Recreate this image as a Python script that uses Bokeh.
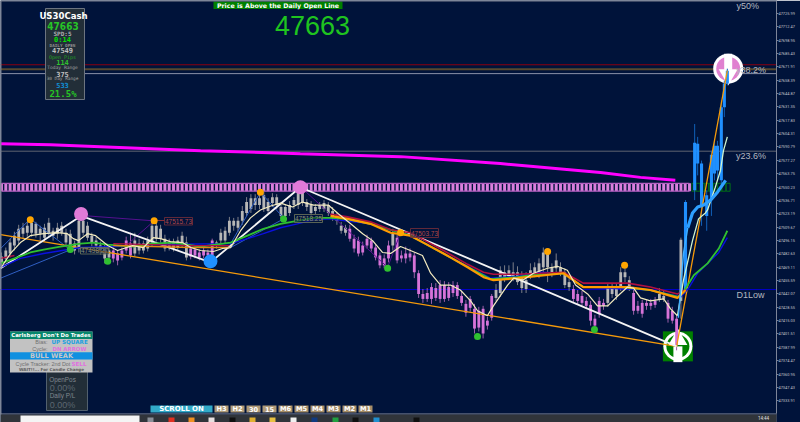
from bokeh.plotting import figure
from bokeh.embed import file_html
from bokeh.resources import INLINE
from bokeh.models import FixedTicker, PrintfTickFormatter, Span, Label, Range1d, BoxAnnotation
from bokeh.core.properties import value

# ---------- data: prices are points above BASE, x values are bar numbers ----------
BASE = 47000
body_high = [480,486,494,501,508,509,511,514,513,508,509,514,506,509,511,504,503,493,516,516,
 511,501,496,491,488,486,486,483,486,496,493,496,493,493,496,511,511,508,498,494,
 494,496,501,494,488,487,484,486,484,496,494,504,506,516,516,516,526,535,539,539,
 539,542,535,540,540,530,530,532,537,545,545,535,532,530,532,534,532,526,521,511,
 509,508,498,496,491,498,496,489,481,478,491,503,499,481,483,483,481,463,442,443,
 449,448,451,451,449,451,451,440,432,437,427,425,427,415,440,446,466,464,466,464,
 464,459,456,466,469,473,484,483,469,476,469,464,454,447,442,440,435,431,417,435,
 433,449,449,448,464,464,456,443,430,433,433,433,435,442,440,433,425,417,497]
body_low = [473,478,483,491,496,503,504,504,503,503,499,504,501,503,504,494,488,486,488,504,
 499,494,491,486,478,479,478,476,479,486,481,483,486,486,488,494,498,498,488,489,
 488,489,493,479,480,481,479,481,481,481,491,496,496,504,511,509,516,524,528,532,
 532,528,526,534,532,521,521,524,532,532,534,530,524,526,528,528,524,519,516,506,
 504,498,488,483,484,491,488,479,471,471,478,491,476,478,478,479,464,442,437,437,
 437,438,437,437,438,443,440,433,423,428,407,408,402,410,418,438,443,458,461,459,
 454,448,447,461,463,463,469,469,464,468,464,451,449,437,435,433,430,415,410,422,
 430,433,442,440,449,459,449,425,425,422,430,430,431,437,437,417,415,390,435]
wick_high = [484,489,498,505,512,514,515,518,515,511,513,519,509,514,515,508,507,496,524,520,
 515,504,500,495,492,490,489,486,489,500,504,504,498,496,500,518,516,512,502,498,
 498,500,505,500,491,490,487,489,487,498,496,508,510,520,519,520,531,540,543,543,
 544,546,539,544,543,534,533,536,540,550,550,538,536,533,535,537,535,530,524,515,
 512,512,502,500,495,502,499,492,484,482,496,508,502,486,490,488,484,466,447,448,
 453,453,456,455,454,455,454,445,436,440,432,429,430,419,442,452,470,471,471,474,
 470,465,464,473,474,478,489,484,473,483,474,468,458,451,446,445,439,435,421,439,
 437,452,453,452,469,468,460,448,435,436,436,437,439,448,446,436,429,421,499]
wick_low = [468,474,479,486,492,498,500,500,499,496,495,501,496,498,501,491,484,482,484,501,
 496,490,488,482,473,476,474,471,476,483,478,480,482,483,485,490,495,494,485,486,
 485,486,489,476,477,478,476,478,478,478,488,493,493,501,506,505,512,521,524,527,
 528,525,523,530,528,518,518,521,528,528,531,526,521,523,525,525,521,516,512,503,
 501,495,484,480,481,488,485,476,468,468,474,486,473,474,473,475,458,438,433,434,
 432,435,433,434,435,439,437,430,419,424,402,404,397,406,415,435,439,454,456,455,
 451,443,443,457,459,458,464,454,459,464,460,448,445,434,431,430,427,410,406,418,
 426,429,438,436,445,454,445,421,422,418,426,426,428,434,434,413,412,385,417]
candle_kind = ("g"*26 + "p"*5 + "g"*13 + "p"*6 + "g"*31 + "p"*10 + "g" + "p"*23 +
               "g"*18 + "p"*8 + "g"*6 + "p"*6 + "g"*2 + "p"*3 + "g")

blue_bar = [159.07,161.2,161.9,162.8,164,165.1,165.8,166.5,167.4,168.1,168.8]
blue_body_high = [535,595,594,574,542,583,592,592,631,655,668]
blue_body_low = [446,547,574,530,521,537,564,567,557,631,655]
blue_wick_high = [537,614,601,577,547,587,597,597,638,658,670]
blue_wick_low = [443,537,562,511,506,521,557,557,552,621,653]

cream_bar = [-0.2,2.1,4.4,6.7,9.8,13,15.3,16.7,17.9,20,21.9,24.7,27,28.4,30.5,33,35.3,37,39.3,42.1,44,46.3,
 49.3,51.4,53.3,55.6,57.9,60.2,62.6,64.9,67.7,70,72.6,76,78.4,81.2,84,86.3,88.6,90.5,92.8,95.1,97.9,99.8,
 102.1,104.4,106.7,109.1,110.7,113,114.4,117.7,119.1,121.2,123.7,127,129.3,131.6,133.5,136.3,138.6,141,
 143.3,145.6,147,148.6,150.9,154,155.6,157.2]
cream_val = [468,483,494,501,503,504,503,498,496,503,501,491,486,488,491,489,499,498,495,494,489,486,
 485,488,489,506,519,527,531,534,530,535,532,532,523,513,503,496,484,483,490,486,481,463,
 451,451,446,435,425,420,430,451,458,456,463,468,470,466,451,442,430,430,
 440,449,448,438,435,437,427,420]
pale_bar = [157.2,158.6,160.7,162.1,163.7,164.2,166,167.2,167.9,168.8]
pale_val = [420,456,496,518,524,527,550,567,587,601]

orange_bar = [76.5,80.5,85.8,90.5,95.1,98.1,102.8,104.4,108.4,112.1,114.4,120,130.7,135.3,139.3,145.6,150.9,157.2,159.1]
orange_val = [521,518,513,504,501,494,483,479,469,459,456,458,463,449,449,449,446,438,446]
red_val = [523,520,515,507,504,497,486,482,472,464,462,462,464,453,453,453,449,442,446]
orange_early_bar = [26,35,44,53]
orange_early_val = [491,490,489,489]
red_early_val = [493,492,491,491]
red_start_bar = [-0.2,3]
red_start_val = [478,481]

green_bar = [-0.2,3.7,6.7,9.8,13.7,18.4,21.4,24.7,30.7,34.7,40,46.3,53.3,57.2,60.9,64.9,68.8,72.6,76.5,80,85.8,95.1,
 104.4,113.7,120,123,130.7,135.3,144,150.9,157.4,158.6,161,164.2,166.8,168.8]
green_val = [473,479,484,487,490,493,494,492,490,493,494,490,494,501,508,513,516,519,519,518,513,501,
 479,457,459,461,463,449,449,446,439,444,461,473,488,506]
navy_bar = [-0.2,4.4,9.8,18.4,26.5,34.7,53.3,57.2,60.9,64.9,68.8,72.6,76.5,80,85.8,95.1,104.4,113.7,120,125.3,130.7,135.3,
 150.9,158,159.8,161.9,166.8,168.8]
navy_val = [469,478,483,489,490,492,493,498,503,509,513,517,518,516,513,501,479,458,460,464,463,449,
 446,439,448,463,484,499]
sky_thin_bar = [157.4,158.6,159.6]
sky_thin_val = [418,483,509]
sky_bar = [159.6,160.7,161.9,163.3,164.9,166.5,168.4]
sky_val = [509,524,530,532,537,545,557]
magenta_bar = [-0.2,11.4,23,46.3,69.5,92.8,116,139.3,148.6,156.7]
magenta_val = [594,593,591,587,584,581,574,565,560,557]

zig_bar = [-0.2,18.5,48.6,69.5,157]
zig_val = [468,521,474,550,389]
trend_bar = [-0.2,157,168.8]
trend_val = [502,389,668]
purple_bar = [[29.5,35.5,20],[69.9,89.8,92.8]]
purple_val = [[493,516,521],[549,469,504]]
thin_blue_bar = [[-0.2,6.7,15.6],[-0.2,15.6],[53.3,60.2,65.6],[53.3,65.6]]
thin_blue_val = [[488,518,488],[458,486],[493,545,519],[489,518]]

peak_bar = [6.7,35.5,60.2,92.8,127,144.9]
peak_val = [517,516,545,504,485,471]
trough_bar = [16,24.7,65.6,89.8,110.7,137.9]
trough_val = [487,475,518,468,399,406]
pink_big_bar = [18.5,69.5]
pink_big_val = [523,550]
blue_big_bar = [48.6]
blue_big_val = [475]
sell_bar, sell_val = [169], [670]
buy_bar, buy_val = [157.3], [389]

band_bars = list(range(0,161))
band_green_bars = list(range(161,170))
band_high, band_low = 554, 546

level_red, level_brown, level_white, level_236, level_d1 = 674, 669.5, 665, 586.5, 446.5

axis_ticks = [47725.99,47712.47,47698.95,47685.43,47671.91,47658.39,47644.87,47631.35,47617.83,47604.31,
 47590.79,47577.27,47563.75,47550.23,47536.71,47523.19,47509.67,47496.15,47482.63,47469.11,47455.59,
 47442.07,47428.55,47415.03,47401.51,47387.99,47374.47,47360.95,47347.43,47333.91]

timeframes = ["H3","H2","30","15","M6","M5","M4","M3","M2","M1"]
taskbar_icons = [(150,"#8a8f98"),(171,"#e03020"),(191,"#f09020"),(211,"#e8e0e0"),(232,"#101010"),(252,"#e0b030"),
                 (272,"#e8c040"),(293,"#f0f0f0"),(314,"#103a80"),(335,"#20a040"),(355,"#101010"),(376,"#2090d0"),(416,"#101010")]

# ---------- scales ----------
def X(px): return (px - 1) / 4.3
def Y(px): return 47739 - 1.012 * px
def P(vals): return [BASE + v for v in vals]

NAVY = "#00133a"
p = figure(frame_width=776, frame_height=422, output_backend="svg", toolbar_location=None,
           x_range=Range1d(X(0), X(776)), y_range=Range1d(Y(422), Y(0)),
           x_axis_location=None, y_axis_location="right", background_fill_color=NAVY, border_fill_color=NAVY,
           min_border_left=0, min_border_right=24, min_border_top=0, min_border_bottom=0)
p.grid.visible = False
p.outline_line_color = None

ya = p.yaxis[0]
ya.ticker = FixedTicker(ticks=axis_ticks)
ya.bounds = (Y(413), Y(0))
ya.formatter = PrintfTickFormatter(format="%.2f")
ya.major_label_text_font = "Roboto"
ya.major_label_text_font_size = "3.9px"
ya.major_label_text_color = "#c0c4cc"
ya.major_label_standoff = 0
ya.major_tick_out = 2
ya.major_tick_in = 0
ya.minor_tick_line_color = None
ya.axis_line_color = "#7c8498"
ya.major_tick_line_color = "#7c8498"

# ---------- levels ----------
for lv, col, w in [(level_red, "#8a0010", 1.2), (level_brown, "#57492f", 2), (level_white, "#8a90a8", 1),
                   (level_236, "#5f6470", 1), (level_d1, "#0000c8", 1)]:
    p.add_layout(Span(location=BASE + lv, dimension="width", line_color=col, line_width=w, level="underlay"))

# ---------- hatched band ----------
p.vbar(x=band_bars, width=0.68, top=BASE + band_high, bottom=BASE + band_low, fill_color="#d97fdc", line_color=None)
p.line([band_bars[0], band_bars[-1]], [BASE + band_high, BASE + band_high], line_color="#b35fc0", line_width=1.2)
p.line([band_bars[0], band_bars[-1]], [BASE + band_low, BASE + band_low], line_color="#b35fc0", line_width=1.2)
p.vbar(x=band_green_bars, width=0.9, top=BASE + band_high, bottom=BASE + band_low, fill_color=NAVY,
       line_color="#006e18", line_width=1)

p.line(magenta_bar, P(magenta_val), line_color="#ff00ff", line_width=3)

# ---------- big icons ----------
p.scatter(buy_bar, P(buy_val), marker="square", size=30, fill_color="#008000", line_color=None)
p.scatter(buy_bar, P(buy_val), marker="circle", size=29, fill_color="#ffffff", line_color=None)
p.scatter(buy_bar, P(buy_val), marker="circle", size=23, fill_color="#008000", line_color=None)
p.rect(buy_bar, [BASE + buy_val[0] - 8], width=9, height=16, width_units="screen", fill_color="#ffffff", line_color=None)
p.scatter(buy_bar, [BASE + buy_val[0] + 7], marker="triangle", size=19, fill_color="#ffffff", line_color=None)

p.scatter(sell_bar, P(sell_val), marker="circle", size=30, fill_color="#ffffff", line_color=None)
p.scatter(sell_bar, P(sell_val), marker="circle", size=24, fill_color="#e080d0", line_color=None)
p.rect(sell_bar, [BASE + sell_val[0] + 7], width=8, height=16, width_units="screen", fill_color="#ffffff", line_color=None)
p.scatter(sell_bar, [BASE + sell_val[0] - 6], marker="inverted_triangle", size=19, fill_color="#ffffff", line_color=None)

# ---------- candles ----------
for kind, body, wick in [("g", "#b6b6b6", "#7c7f88"), ("p", "#d673d8", "#9a5fa8")]:
    idx = [i for i, k in enumerate(candle_kind) if k == kind]
    p.segment(x0=idx, x1=idx, y0=[BASE + wick_high[i] for i in idx], y1=[BASE + wick_low[i] for i in idx],
              line_color=wick, line_width=1)
    p.vbar(x=idx, width=0.66, top=[BASE + body_high[i] for i in idx], bottom=[BASE + body_low[i] for i in idx],
           fill_color=body, line_color=None)
p.segment(x0=blue_bar, x1=blue_bar, y0=P(blue_wick_high), y1=P(blue_wick_low), line_color="#1060b8", line_width=1)
p.vbar(x=blue_bar, width=0.72, top=P(blue_body_high), bottom=P(blue_body_low), fill_color="#2090ff", line_color=None)

# ---------- zigzags ----------
p.multi_line(thin_blue_bar, [P(v) for v in thin_blue_val], line_color="#2f5fc4", line_width=1)
p.multi_line(purple_bar, [P(v) for v in purple_val], line_color="#55108f", line_width=1)
p.line(trend_bar, P(trend_val), line_color="#f59a0a", line_width=1.3)
p.line(zig_bar, P(zig_val), line_color="#f4f4f4", line_width=1.8)

# ---------- moving averages ----------
p.line(navy_bar, P(navy_val), line_color="#0a10e0", line_width=1.4)
p.line(green_bar, P(green_val), line_color="#2fc030", line_width=1.8)
p.line(red_start_bar, P(red_start_val), line_color="#b01040", line_width=1.4)
p.line(orange_early_bar, P(red_early_val), line_color="#b01040", line_width=1.2)
p.line(orange_early_bar, P(orange_early_val), line_color="#e08a10", line_width=1.4)
p.line(orange_bar, P(red_val), line_color="#b01040", line_width=1.6)
p.line(orange_bar, P(orange_val), line_color="#ff9a00", line_width=2.2)
p.line(cream_bar, P(cream_val), line_color="#f4ecc0", line_width=1.2)
p.line(pale_bar, P(pale_val), line_color="#d0f5d0", line_width=1.3)
p.line(sky_thin_bar, P(sky_thin_val), line_color="#40b0ff", line_width=1.4)
p.line(sky_bar, P(sky_val), line_color="#2ea0ff", line_width=3.2)

# ---------- price flags and dots ----------
def flag(x0, x1, y0, y1, txt, col, border):
    p.quad(left=[X(x0)], right=[X(x1)], top=[Y(y0)], bottom=[Y(y1)], fill_color=NAVY, fill_alpha=0.55, line_color=border, line_width=0.8)
    p.text([X((x0 + x1) / 2)], [Y((y0 + y1) / 2)], text=[txt], text_color=col, text_font_size="6.5px",
           text_align="center", text_baseline="middle", text_font=value("Liberation Sans"))
flag(164, 192, 217, 224.5, "47515.73", "#b04848", "#7a3038")
flag(80, 108, 247, 253.5, "47498.27", "#8a9078", "#70785a")
flag(294, 322, 214, 222, "47518.25", "#8a9078", "#70785a")
flag(410, 438, 228, 237, "47503.73", "#b04848", "#7a3038")
p.segment([X(156)], [Y(220)], [X(164)], [Y(220)], line_color="#8a3038", line_width=1)

p.scatter(peak_bar, P(peak_val), marker="circle", size=7, fill_color="#ffa500", line_color=None)
p.scatter(trough_bar, P(trough_val), marker="circle", size=7, fill_color="#2fc030", line_color=None)
p.scatter(pink_big_bar, P(pink_big_val), marker="circle", size=14, fill_color="#e07ad8", line_color=None)
p.scatter(blue_big_bar, P(blue_big_val), marker="circle", size=14, fill_color="#2090ff", line_color=None)

# ---------- texts ----------
def T(x, y, txt, col, size, font="DejaVu Sans", style="normal", align="center"):
    p.text([X(x)], [Y(y)], text=[txt], text_color=col, text_font_size=f"{size}px", text_font=value(font),
           text_font_style=style, text_align=align, text_baseline="middle")

def box(x0, x1, y0, y1, fill, line=None, w=1):
    p.quad(left=[X(x0)], right=[X(x1)], top=[Y(y0)], bottom=[Y(y1)], fill_color=fill, line_color=line, line_width=w)

T(735.5, 69, "y38.2%", "#b4b8c0", 9, "Liberation Sans", align="left")
T(735.5, 155, "y23.6%", "#b4b8c0", 9, "Liberation Sans", align="left")
T(736, 294, "D1Low", "#b4b8c0", 9, "Liberation Sans", align="left")
T(736, 5, "y50%", "#b4b8c0", 9, "Liberation Sans", align="left")

box(213, 342, 1, 8.5, "#008000")
T(277.5, 4.8, "Price is Above the Daily Open Line", "#ffffff", 6.3, style="bold")
T(312, 25, "47663", "#1fc41f", 27, "Liberation Sans")

# info panel
box(45, 84, 8, 99, "#222e38", "#6c7480", 1)
T(63, 15, "US30Cash", "#ffffff", 9.5, "DejaVu Sans Condensed", "bold")
T(62.5, 25, "47663", "#27c427", 10, "DejaVu Sans Condensed", "bold")
T(62, 32.5, "SPD:5", "#b0b0b0", 6, "DejaVu Sans Mono", "bold")
T(62, 39, "0:14", "#00e000", 7, "DejaVu Sans Mono", "bold")
T(62, 44.5, "DAILY OPEN", "#909090", 4.3, "DejaVu Sans Mono", "bold")
T(62, 49.5, "47549", "#c0c0c0", 7, "DejaVu Sans Mono", "bold")
T(62, 56, "Open Pips", "#20a020", 5, "DejaVu Sans Mono")
T(62, 61, "114", "#30c030", 7, "DejaVu Sans Mono", "bold")
T(62, 67, "Today Range", "#a0a0a0", 4.6, "DejaVu Sans Mono")
T(62, 73, "375", "#c0c0c0", 7, "DejaVu Sans Mono", "bold")
T(62, 78, "30 Day Range", "#a0a0a0", 4.4, "DejaVu Sans Mono")
T(62, 84.5, "533", "#1090d8", 7, "DejaVu Sans Mono", "bold")
T(62.5, 93, "21.5%", "#26c426", 9, "DejaVu Sans Mono", "bold")

# account panel
box(46, 87, 360, 410, "#222e38", "#52606e", 1)
T(62, 379, "OpenPos", "#808890", 6.4, "Liberation Sans")
T(62, 387, "0.00%", "#5c6670", 9, "Liberation Sans")
T(62, 395, "Daily P/L", "#808890", 6.4, "Liberation Sans")
T(62, 404, "0.00%", "#5c6670", 9, "Liberation Sans")

# Carlsberg panel
box(9.5, 92, 331, 372, "#c2c2c2")
box(9.5, 92, 331, 338.5, "#06866c")
box(9.5, 92, 351.7, 359, "#1090e0")
T(50.5, 334.7, "Carlsberg Don't Do Trades", "#ffffff", 5.4, style="bold")
T(47, 341.7, "Bias:", "#707070", 5.5, "Liberation Sans", align="right")
T(51, 341.7, "UP SQUARE", "#20a0e0", 5.6, style="bold", align="left")
T(47, 348, "Cycle:", "#707070", 5.5, "Liberation Sans", align="right")
T(52, 348, "DN ARROW", "#e070e0", 5.4, style="bold", align="left")
T(51, 355.2, "BULL WEAK", "#c8c8c8", 6.6, style="bold")
T(15, 363, "Cycle Tracker: 2nd Dot", "#707070", 5.4, "Liberation Sans", align="left")
T(71, 363, "SELL", "#e070e0", 5.6, style="bold", align="left")
T(51, 368.7, "WAIT!!... For Candle Change", "#606060", 4.1, style="bold")

# timeframe buttons
box(150, 212, 405, 412, "#32aac8")
T(181, 408.7, "SCROLL ON", "#ffffff", 7, style="bold")
for n, tf in enumerate(timeframes):
    x0 = 214 + n * 16
    box(x0, x0 + 14, 405, 412, "#a58e68" if n > 3 else "#ae9a78")
    T(x0 + 7, 408.7, tf, "#ffffff", 6.6, style="bold")

# window frame and task bar
box(0, 1, 0, 422, "#7a8090")
box(0, 776, 0, 1, "#7a8090")
box(0, 776, 413, 414, "#8a90a0")
box(0, 776, 414, 422, "#30343a")
box(20, 139, 415, 422, "#f4f4f4")
p.scatter([X(x) for x, _ in taskbar_icons], [Y(420)] * len(taskbar_icons), marker="square", size=6,
          fill_color=[c for _, c in taskbar_icons], line_color=None)
T(763, 418, "14:44", "#e0e0e0", 4.5, "Roboto")
p.add_layout(BoxAnnotation(left=X(776), right=X(801), top=Y(413), bottom=Y(423), fill_color="#30343a", fill_alpha=1,
                           line_color=None, level="overlay"))

# ---------- price tags on the scale ----------
for txt, lv, bg, col in [("47669.59", level_brown, "#f0a820", "#402000"), ("47663.25", level_white, "#e8e8f0", "#202030")]:
    p.add_layout(BoxAnnotation(left=X(777), right=X(796), top=BASE + lv + 2.6, bottom=BASE + lv - 2.4, fill_color=bg,
                               fill_alpha=1, line_color=None, level="overlay"))
    p.add_layout(Label(x=X(778), y=BASE + lv, text=txt, text_font="Roboto", text_font_size="3.9px", text_color=col,
                       text_baseline="middle", text_align="left", level="overlay"))

open("out.html", "w").write(file_html(p, INLINE))
